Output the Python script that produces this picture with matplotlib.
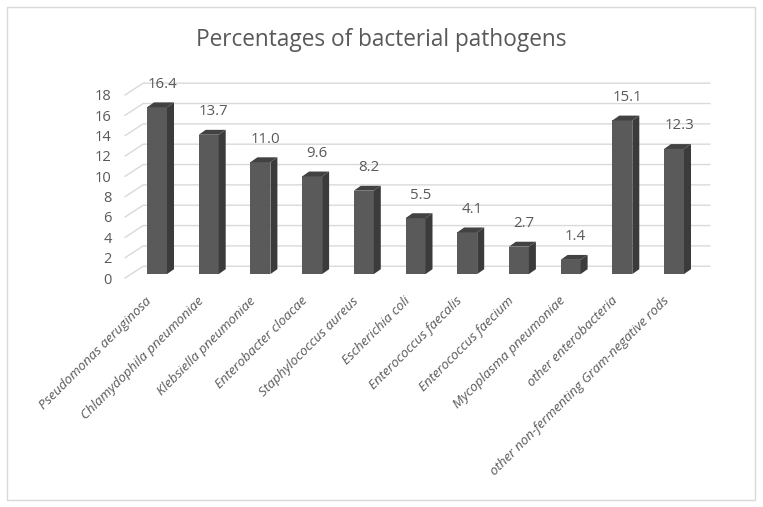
import matplotlib
matplotlib.use("Agg")
import matplotlib.pyplot as plt
import numpy as np
from matplotlib.patches import Polygon, Rectangle
from matplotlib.transforms import ScaledTranslation

categories = ["Pseudomonas aeruginosa", "Chlamydophila pneumoniae", "Klebsiella pneumoniae",
              "Enterobacter cloacae", "Staphylococcus aureus", "Escherichia coli",
              "Enterococcus faecalis", "Enterococcus faecium", "Mycoplasma pneumoniae",
              "other enterobacteria", "other non-fermenting Gram-negative rods"]
values = [16.4, 13.7, 11.0, 9.6, 8.2, 5.5, 4.1, 2.7, 1.4, 15.1, 12.3]
y_ticks = [0, 2, 4, 6, 8, 10, 12, 14, 16, 18]
title = "Percentages of bacterial pathogens"

FONT = "Open Sans"
W, H = 763, 507
fig = plt.figure(figsize=(W / 100, H / 100), dpi=100)

# axes placement in pixels
x0_px, x1_px = 131.15, 699.85
y0_px, y1_px = 278, 91
ax = fig.add_axes([x0_px / W, (H - y0_px) / H, (x1_px - x0_px) / W, (y0_px - y1_px) / H])
ax.set_xlim(-0.5, 10.5)
ax.set_ylim(0, 18)
pxx = 11 / (x1_px - x0_px)   # data units per pixel (x)
pxy = 18 / (y0_px - y1_px)   # data units per pixel (y)

grid_c = "#d9d9d9"
text_c = "#595959"

# walls gridlines (side wall diagonal + back wall horizontal)
xl_front = -0.5 - 6 * pxx
xl_back = -0.5 + 12 * pxx
xr_back = 10.5 + 10 * pxx
for v in y_ticks:
    yf = v - 4 * pxy
    yb = v + 8 * pxy
    ax.plot([xl_front, xl_back, xr_back], [yf, yb, yb], color=grid_c, lw=1.0,
            clip_on=False, zorder=1, solid_joinstyle="miter")

# 3D-look bars
bw = 20 * pxx
ddx = 7 * pxx
ddy = 5 * pxy
front_c = "#5a5a5a"
side_c = "#3b3b3b"
top_c = "#424242"
for i, v in enumerate(values):
    xl = i - bw / 2
    xr = i + bw / 2
    ax.bar(i, v, width=bw, color=front_c, zorder=3, linewidth=0)
    ax.add_patch(Polygon([[xr, 0], [xr, v], [xr + ddx, v + ddy], [xr + ddx, ddy]],
                         closed=True, facecolor=side_c, edgecolor="none", zorder=3, clip_on=False))
    ax.add_patch(Polygon([[xl, v], [xr, v], [xr + ddx, v + ddy], [xl + ddx, v + ddy]],
                         closed=True, facecolor=top_c, edgecolor="none", zorder=3, clip_on=False))
    ax.annotate(f"{v:.1f}", xy=(i, v), xytext=(5, 23), textcoords="offset pixels",
                ha="center", va="center", fontsize=10.8, color=text_c, family=FONT,
                annotation_clip=False)

for s in ax.spines.values():
    s.set_visible(False)
ax.set_yticks([v - 4 * pxy for v in y_ticks], [str(v) for v in y_ticks])
ax.tick_params(axis="y", length=0, pad=14, labelsize=10.5, labelcolor=text_c)
for lbl in ax.get_yticklabels():
    lbl.set_family(FONT)
ax.set_xticks(range(len(categories)), categories)
ax.tick_params(axis="x", length=0, pad=15)
for lbl in ax.get_xticklabels():
    lbl.set_rotation(45)
    lbl.set_ha("right")
    lbl.set_va("center")
    lbl.set_rotation_mode("anchor")
    lbl.set_fontsize(9.6)
    lbl.set_style("italic")
    lbl.set_family(FONT)
    lbl.set_color(text_c)
    lbl.set_transform(lbl.get_transform() + ScaledTranslation(-0.07, 0, fig.dpi_scale_trans))

fig.text(0.5, 1 - 40 / H, title, ha="center", va="center", fontsize=16.3, color=text_c, family=FONT)

fig.patches.append(Rectangle((7 / W, 7 / H), (755 - 7) / W, (500 - 7) / H, transform=fig.transFigure,
                             fill=False, edgecolor=grid_c, lw=1.0))

fig.savefig("out.png", dpi=100)
